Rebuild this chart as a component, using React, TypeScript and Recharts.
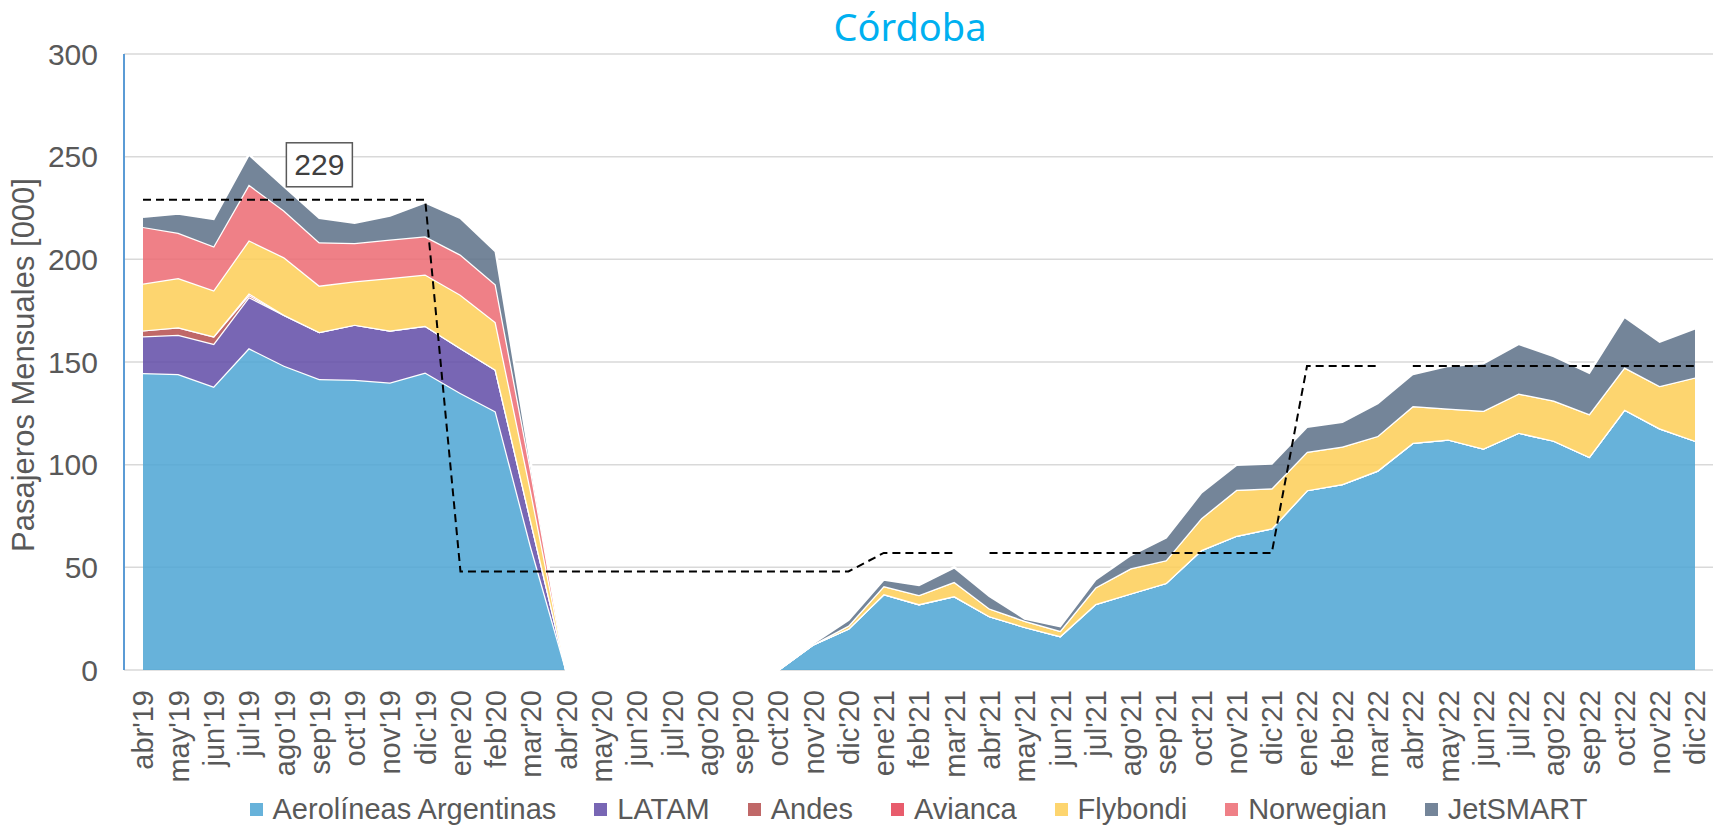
import React from "react";
import { ComposedChart, Area, Line, XAxis, YAxis, CartesianGrid, LabelList } from "recharts";

// meses abr'19 .. dic'22
const meses = [
  "abr'19", "may'19", "jun'19", "jul'19", "ago'19", "sep'19", "oct'19", "nov'19", "dic'19",
  "ene'20", "feb'20", "mar'20", "abr'20", "may'20", "jun'20", "jul'20", "ago'20", "sep'20", "oct'20", "nov'20", "dic'20",
  "ene'21", "feb'21", "mar'21", "abr'21", "may'21", "jun'21", "jul'21", "ago'21", "sep'21", "oct'21", "nov'21", "dic'21",
  "ene'22", "feb'22", "mar'22", "abr'22", "may'22", "jun'22", "jul'22", "ago'22", "sep'22", "oct'22", "nov'22", "dic'22",
];

// pasajeros mensuales [000]
const aerolineas = [
  144.6, 144.1, 138.1, 156.8, 148.2, 141.7, 141.4, 140, 144.9,
  134.9, 125.9, 60, 0, 0, 0, 0, 0, 0, 0, 12.5, 20.2,
  37, 32.1, 36, 26.2, 21, 16.5, 32.1, 37.3, 42.4, 58.4, 65.4, 69,
  87.6, 90.6, 97.1, 110.7, 112.3, 107.9, 115.6, 111.7, 103.9, 126.9, 117.7, 111.7,
];
const latam = [
  17.9, 19.2, 20.8, 24.9, 24.8, 22.9, 26.8, 25.4, 22.8,
  21.9, 20.3, 12.7, 0, 0, 0, 0, 0, 0, 0, 0, 0,
  0, 0, 0, 0, 0, 0, 0, 0, 0, 0, 0, 0,
  0, 0, 0, 0, 0, 0, 0, 0, 0, 0, 0, 0,
];
const andes = [
  2.9, 3.6, 3.6, 1.0, 0, 0, 0, 0, 0,
  0, 0, 0, 0, 0, 0, 0, 0, 0, 0, 0, 0,
  0, 0, 0, 0, 0, 0, 0, 0, 0, 0, 0, 0,
  0, 0, 0, 0, 0, 0, 0, 0, 0, 0, 0, 0,
];
const avianca = [
  0, 0, 0, 0.8, 0, 0, 0, 0, 0,
  0, 0, 0, 0, 0, 0, 0, 0, 0, 0, 0, 0,
  0, 0, 0, 0, 0, 0, 0, 0, 0, 0, 0, 0,
  0, 0, 0, 0, 0, 0, 0, 0, 0, 0, 0, 0,
];
const flybondi = [
  22.8, 24, 22.4, 25.8, 28, 22.6, 21.1, 25.5, 24.9,
  26, 23.1, 14.4, 0, 0, 0, 0, 0, 0, 0, 0, 1.5,
  3.9, 4.4, 7, 3.8, 3, 2.6, 8.1, 12.2, 11.1, 15.5, 22.4, 19.5,
  18.7, 18.2, 16.9, 17.9, 15.1, 18.4, 19.1, 19.5, 20.8, 20.5, 20.6, 30.8,
];
const norwegian = [
  27.6, 22, 21.5, 27.1, 22.8, 21.1, 18.7, 18.7, 18.6,
  19.5, 18.4, 10, 0, 0, 0, 0, 0, 0, 0, 0, 0,
  0, 0, 0, 0, 0, 0, 0, 0, 0, 0, 0, 0,
  0, 0, 0, 0, 0, 0, 0, 0, 0, 0, 0, 0,
];
const jetsmart = [
  4.9, 9.4, 13.3, 14.7, 11.7, 11.9, 9.8, 11.7, 16.6,
  17.9, 16.2, 3, 0, 0, 0, 0, 0, 0, 0, 0.5, 2.7,
  3.2, 4.9, 7, 6, 1.1, 2.3, 3.9, 6.5, 11, 12.5, 12.2, 12.1,
  12.2, 12.1, 15.9, 15.6, 20.7, 23.1, 24.1, 21.7, 20.1, 24.7, 21.6, 23.9,
];

// referencia punteada (tres tramos)
const _ = null;
const refTramo1 = [
  229, 229, 229, 229, 229, 229, 229, 229, 229,
  48, 48, 48, 48, 48, 48, 48, 48, 48, 48, 48, 48,
  57, 57, 57, _, _, _, _, _, _, _, _, _,
  _, _, _, _, _, _, _, _, _, _, _, _,
];
const refTramo2 = [
  _, _, _, _, _, _, _, _, _,
  _, _, _, _, _, _, _, _, _, _, _, _,
  _, _, _, 57, 57, 57, 57, 57, 57, 57, 57, 57,
  148, 148, 148, _, _, _, _, _, _, _, _, _,
];
const refTramo3 = [
  _, _, _, _, _, _, _, _, _,
  _, _, _, _, _, _, _, _, _, _, _, _,
  _, _, _, _, _, _, _, _, _, _, _, _,
  _, _, _, 148, 148, 148, 148, 148, 148, 148, 148, 148,
];
const labelIndex = 5;

const series = [
  { key: "aerolineas", name: "Aerolíneas Argentinas", color: "#4CA4D4", values: aerolineas },
  { key: "latam", name: "LATAM", color: "#604BA7", values: latam },
  { key: "andes", name: "Andes", color: "#B54D4D", values: andes },
  { key: "avianca", name: "Avianca", color: "#E44052", values: avianca },
  { key: "flybondi", name: "Flybondi", color: "#FDCE56", values: flybondi },
  { key: "norwegian", name: "Norwegian", color: "#EC6A72", values: norwegian },
  { key: "jetsmart", name: "JetSMART", color: "#5C7087", values: jetsmart },
];

const yTicks = [0, 50, 100, 150, 200, 250, 300];
const FONT = "'Liberation Sans', Arial, sans-serif";
const GRAY = "#595959";
const FILL_OPACITY = 0.85;

const data = meses.map((mes, i) => {
  const row: Record<string, any> = { mes, ref1: refTramo1[i], ref2: refTramo2[i], ref3: refTramo3[i] };
  series.forEach((s) => (row[s.key] = s.values[i]));
  return row;
});

function MesTick({ x, y, payload }: any) {
  return (
    <g transform={`translate(${x},${y})`}>
      <text transform="rotate(-90)" textAnchor="end" dy="0.36em" fill={GRAY} fontSize={29} fontFamily={FONT}>
        {payload.value}
      </text>
    </g>
  );
}

function YLabel({ viewBox }: any) {
  const cx = viewBox.x + 23;
  const cy = viewBox.y + viewBox.height / 2 + 3;
  return (
    <text
      transform={`translate(${cx},${cy}) rotate(-90)`}
      textAnchor="middle"
      dominantBaseline="central"
      fill={GRAY}
      fontSize={31}
      fontFamily={FONT}
    >
      Pasajeros Mensuales [000]
    </text>
  );
}

function RefLabel({ x, y, value, index }: any) {
  if (index !== labelIndex || value == null) return null;
  const cy = y - 35;
  return (
    <g>
      <rect x={x - 33} y={cy - 22} width={66} height={44} fill="#fff" stroke={GRAY} strokeWidth={1.5} />
      <text x={x} y={cy} textAnchor="middle" dominantBaseline="central" fill="#404040" fontSize={30} fontFamily={FONT}>
        {value}
      </text>
    </g>
  );
}

export default function App() {
  return (
    <div style={{ position: "absolute", left: 0, top: 0, width: 1716, height: 828, background: "#fff" }}>
      <div
        style={{
          position: "absolute",
          left: 610,
          top: 7,
          width: 600,
          textAlign: "center",
          fontFamily: "'Noto Sans', sans-serif",
          fontSize: 38,
          lineHeight: "38px",
          color: "#00B0F0",
        }}
      >
        Córdoba
      </div>

      <ComposedChart width={1716} height={828} data={data} margin={{ top: 54, right: 3, bottom: 58, left: 0 }}>
        <CartesianGrid vertical={false} stroke="#D9D9D9" strokeWidth={1.5} />
        <XAxis
          dataKey="mes"
          interval={0}
          height={100}
          padding={{ left: 19, right: 18 }}
          tickLine={false}
          tickSize={0}
          tickMargin={20}
          axisLine={false}
          tick={<MesTick />}
        />
        <YAxis
          width={124}
          domain={[0, 300]}
          ticks={yTicks}
          interval={0}
          tickLine={false}
          tickSize={0}
          tickMargin={26}
          axisLine={{ stroke: "#5B9BD5", strokeWidth: 2 }}
          tick={{ fill: GRAY, fontSize: 30, fontFamily: FONT }}
          label={{ content: <YLabel /> }}
        />
        {series.map((s) => (
          <Area
            key={s.key}
            type="linear"
            dataKey={s.key}
            name={s.name}
            stackId="a"
            fill={s.color}
            fillOpacity={FILL_OPACITY}
            stroke="#fff"
            strokeWidth={2.5}
            dot={false}
            activeDot={false}
            isAnimationActive={false}
          />
        ))}
        {["ref1", "ref2", "ref3"].map((k) => (
          <Line
            key={k}
            type="linear"
            dataKey={k}
            stroke="#000"
            strokeWidth={2}
            strokeDasharray="8 5"
            dot={false}
            activeDot={false}
            legendType="none"
            isAnimationActive={false}
          >
            {k === "ref1" && <LabelList dataKey={k} content={<RefLabel />} />}
          </Line>
        ))}
      </ComposedChart>

      <div
        style={{
          position: "absolute",
          left: 124,
          width: 1589,
          top: 795,
          display: "flex",
          justifyContent: "center",
          alignItems: "center",
          gap: 38,
          fontFamily: FONT,
          fontSize: 29,
          lineHeight: "29px",
          color: GRAY,
        }}
      >
        {series.map((s) => (
          <div key={s.key} style={{ display: "flex", alignItems: "center", gap: 10 }}>
            <span style={{ width: 13, height: 13, background: s.color, opacity: FILL_OPACITY, display: "inline-block" }} />
            <span>{s.name}</span>
          </div>
        ))}
      </div>
    </div>
  );
}
